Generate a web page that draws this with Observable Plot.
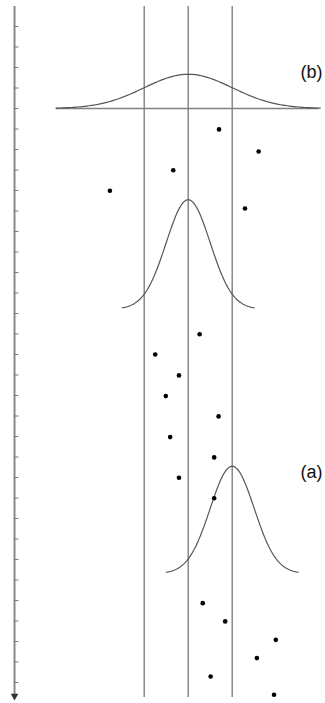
<!DOCTYPE html>
<html>
<head>
<meta charset="utf-8">
<script src="https://cdn.jsdelivr.net/npm/d3@7"></script>
<script src="https://cdn.jsdelivr.net/npm/@observablehq/plot@0.6"></script>
<style>
  html, body { margin: 0; padding: 0; background: #fff; }
  #chart svg { display: block; }
</style>
</head>
<body>
<div id="chart"></div>
<script>
// Observations: horizontal position (units of sigma) and time step (downwards)
const pointX = [0.70, 1.60, -0.34, -1.78, 1.29, 0.26, -0.75, -0.21, -0.51, 0.69, -0.41, 0.59, -0.21, 0.59, 0.33, 0.84, 1.99, 1.56, 0.51, 1.95];
const pointT = [5.02, 6.10, 7.01, 8.01, 8.88, 15.01, 16.0, 17.02, 18.03, 19.02, 20.03, 21.02, 22.01, 23.01, 28.13, 29.02, 29.92, 30.81, 31.71, 32.6];

// Reference vertical lines (mean, +/- one sigma)
const guideX = [-1, 0, 1];

// Bell curves: centre, spread, baseline time, height
const bellCenter = [0, 0, 1];
const bellSigma = [1, 0.5, 0.5];
const bellBase = [4.0, 13.78, 26.68];
const bellAmp = [1.67, 5.33, 5.23];

// Labels
const labelText = ["(b)", "(a)"];
const labelT = [2.22, 21.73];

// Time axis ticks
const tickT = d3.range(0, 33);

const axisX = -3.947;
const labelX = 2.55;

const points = pointX.map((x, i) => ({x, t: pointT[i]}));
const curves = [];
bellCenter.forEach((c, k) => {
  const s = bellSigma[k];
  for (let i = 0; i <= 120; i++) {
    const z = -3 + 6 * i / 120;
    curves.push({k, x: c + z * s, t: bellBase[k] - bellAmp[k] * Math.exp(-0.5 * z * z)});
  }
});
const labels = labelText.map((text, i) => ({text, t: labelT[i]}));

const chart = Plot.plot({
  width: 325,
  height: 703,
  margin: 0,
  x: {domain: [-4.266, 3.120], range: [0, 325], axis: null},
  y: {domain: [-1, 33], range: [5.5, 702.5], axis: null},
  style: {background: "#fff"},
  marks: [
    // vertical guide lines
    Plot.ruleX(guideX, {x: d => d, y1: -0.98, y2: 32.73, stroke: "#808080", strokeWidth: 1.4}),
    // baseline for (b)
    Plot.ruleY([bellBase[0]], {y: d => d, x1: -3, x2: 2.96, stroke: "#808080", strokeWidth: 1.4}),
    // bell curves
    Plot.line(curves, {x: "x", y: "t", z: "k", stroke: "#555", strokeWidth: 1.2, curve: "linear"}),
    // time axis
    Plot.ruleX([axisX], {x: d => d, y1: -0.98, y2: 32.6, stroke: "#8a8a8a", strokeWidth: 2}),
    Plot.ruleY(tickT, {y: d => d, x1: axisX, x2: axisX + 0.1, stroke: "#777", strokeWidth: 1}),
    Plot.dot([32.66], {x: axisX, y: d => d, symbol: "triangle", rotate: 180, r: 2.8, fill: "#333", stroke: "none"}),
    // observations
    Plot.dot(points, {x: "x", y: "t", r: 2.3, fill: "#000", stroke: "none"}),
    // labels
    Plot.text(labels, {x: labelX, y: "t", text: "text", textAnchor: "start", fontSize: 18, fill: "#111", fontFamily: "Liberation Sans, Arial, sans-serif"})
  ]
});
document.getElementById("chart").appendChild(chart);
</script>
</body>
</html>
